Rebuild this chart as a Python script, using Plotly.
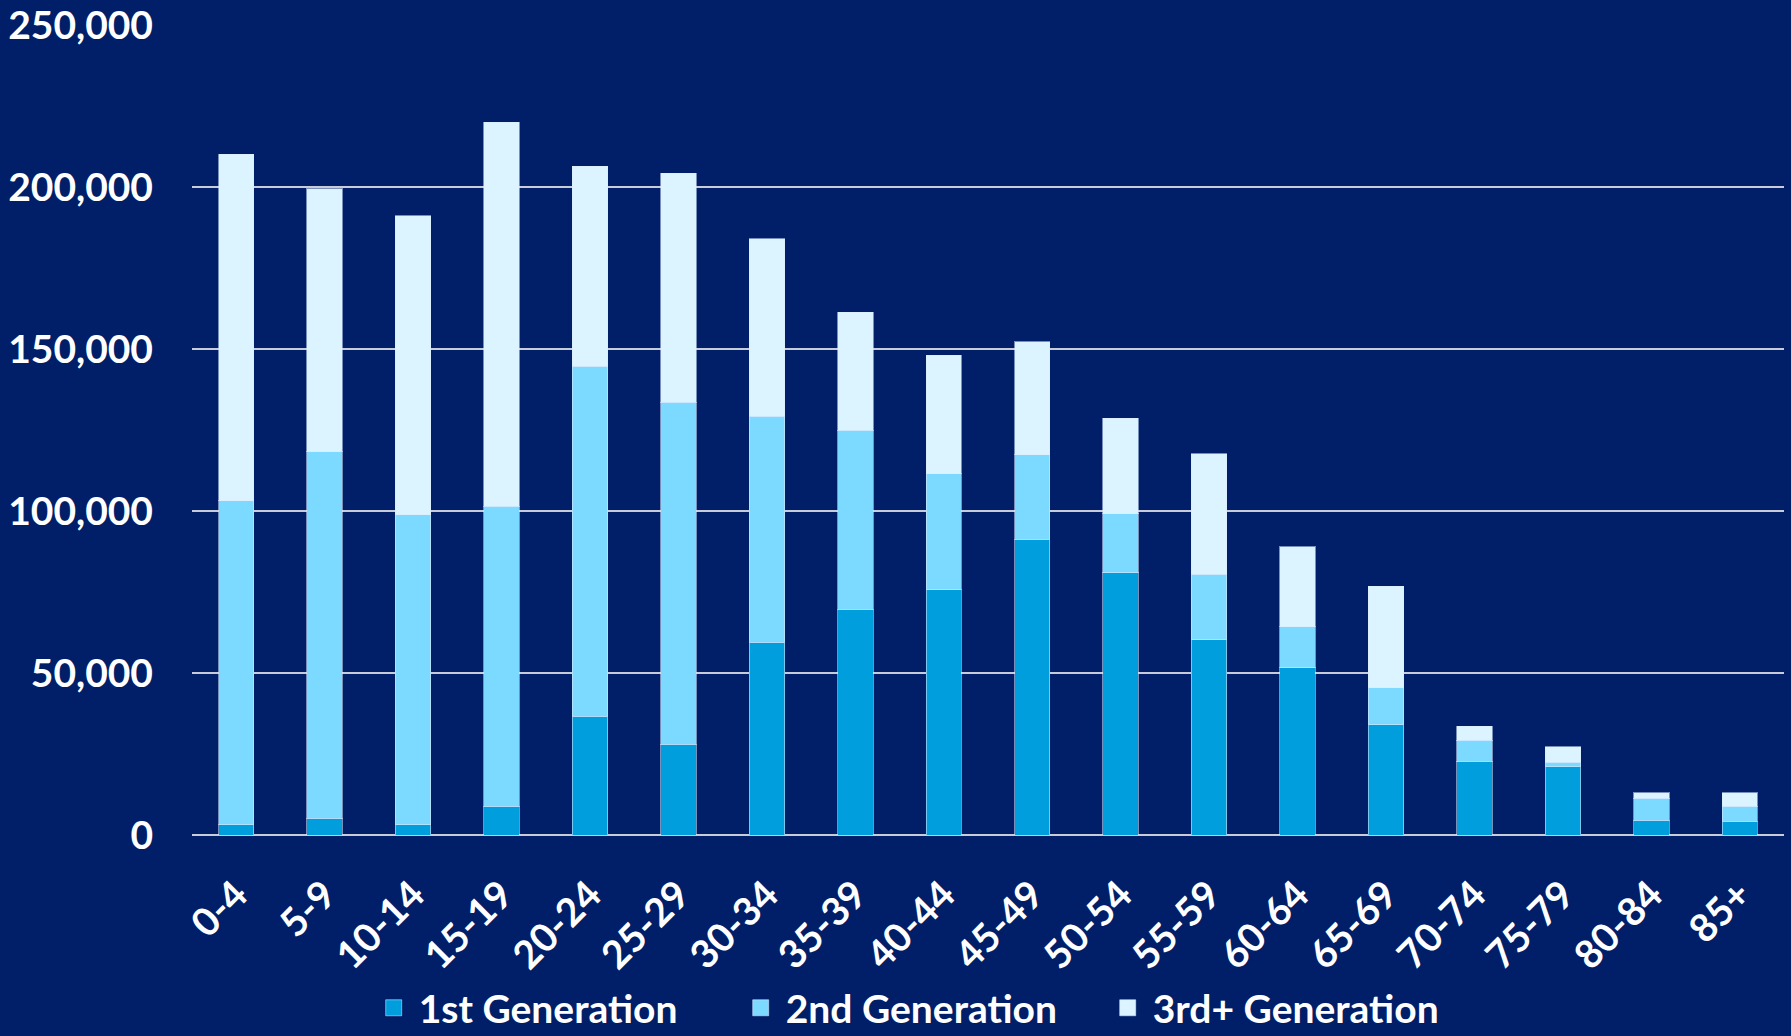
import plotly.graph_objects as go

categories = ["0-4", "5-9", "10-14", "15-19", "20-24", "25-29", "30-34", "35-39",
              "40-44", "45-49", "50-54", "55-59", "60-64", "65-69", "70-74", "75-79",
              "80-84", "85+"]
gen1 = [3100, 5200, 3100, 8900, 36700, 28000, 59500, 69700, 75700, 91300,
        80900, 60300, 51600, 34000, 22700, 21000, 4600, 4300]
gen2 = [100100, 113100, 95700, 92500, 108000, 105600, 69800, 55300, 35800, 26100,
        18300, 20200, 12600, 11500, 6600, 1400, 6700, 4500]
gen3 = [106900, 81100, 92300, 118600, 61700, 70600, 54700, 36400, 36600, 34800,
        29500, 37100, 24800, 31300, 4200, 4800, 1800, 4300]
series_names = ["1st Generation", "2nd Generation", "3rd+ Generation"]
y_ticks = [0, 50000, 100000, 150000, 200000, 250000]

BG = "#001F68"
colors = ["#009EDD", "#7CD9FF", "#DCF4FF"]
FONT = dict(family="Lato", size=39, color="white", weight="bold")
EDGE = "rgba(220,235,255,0.55)"

fig = go.Figure()
for name, vals, col in zip(series_names, [gen1, gen2, gen3], colors):
    fig.add_trace(go.Bar(
        x=categories, y=vals, name=name, showlegend=False, legendgroup=name,
        marker=dict(color=col, line=dict(color=EDGE, width=1)),
    ))
# legend entries with larger square swatches
for name, col in zip(series_names, colors):
    fig.add_trace(go.Scatter(
        x=[None], y=[None], mode="markers", name=name, legendgroup=name,
        marker=dict(symbol="square", size=16, color=col, line=dict(color=EDGE, width=1)),
        hoverinfo="skip",
    ))

fig.update_layout(
    barmode="stack",
    bargap=0.6,
    width=1791, height=1036,
    paper_bgcolor=BG, plot_bgcolor=BG,
    margin=dict(l=192, r=7, t=25, b=201, autoexpand=False),
    font=FONT,
    showlegend=True,
    legend=dict(orientation="h", x=0.111, xanchor="left", y=-0.253, yanchor="bottom",
                font=FONT, traceorder="normal", itemwidth=40,
                entrywidth=312, entrywidthmode="pixels",
                bgcolor="rgba(0,0,0,0)"),
)
fig.update_yaxes(
    range=[0, 250000], tickvals=y_ticks, tickformat=",", automargin=False,
    showgrid=True, gridcolor="#C8CCD8", gridwidth=2,
    zeroline=True, zerolinecolor="#C8CCD8", zerolinewidth=2,
    showline=False, ticks="", ticklabelstandoff=38, tickfont=FONT,
)
fig.update_xaxes(
    type="category", automargin=False,
    tickangle=-45, showgrid=False, showline=False, ticks="",
    ticklabelstandoff=28, tickfont=FONT,
)

fig.write_html(
    "out.html",
    config={"displayModeBar": False},
    post_script="document.body.style.margin='0';document.body.style.padding='0';"
                "document.body.style.background='" + BG + "';",
)
